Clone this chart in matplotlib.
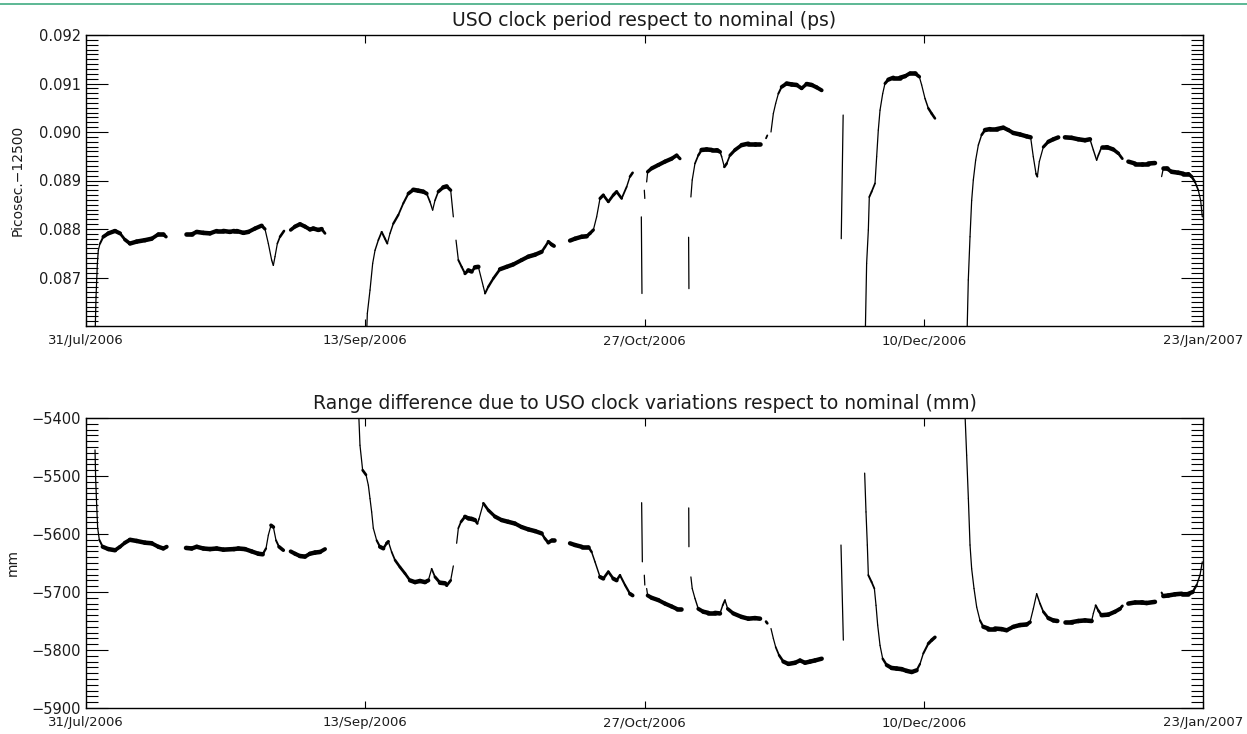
import datetime as dt

import numpy as np
import matplotlib
matplotlib.use("Agg")
import matplotlib.pyplot as plt
import matplotlib.dates as mdates
from matplotlib.collections import LineCollection
from matplotlib.lines import Line2D
from matplotlib.ticker import FixedLocator, FuncFormatter, NullLocator

# ---------------------------------------------------------------------------
# Time axis: days elapsed since 31 Jul 2006
# ---------------------------------------------------------------------------
START = dt.datetime(2006, 7, 31)
END = dt.datetime(2007, 1, 23)
TICK_DATES = [dt.datetime(2006, 7, 31), dt.datetime(2006, 9, 13),
              dt.datetime(2006, 10, 27), dt.datetime(2006, 12, 10),
              dt.datetime(2007, 1, 23)]
TICK_LABELS = ["31/Jul/2006", "13/Sep/2006", "27/Oct/2006",
               "10/Dec/2006", "23/Jan/2007"]

# ---------------------------------------------------------------------------
# USO clock period minus 12500 ps, one list pair per continuous data stretch
# ---------------------------------------------------------------------------
P1_DAY = [1.37, 1.58, 1.79, 1.94, 2.21, 2.73, 3.52, 4.57, 5.36, 6.14, 6.93,
          7.98, 9.30, 10.35, 11.40, 12.18, 12.61]
P1_PS = [0.0855, 0.08660, 0.08729, 0.08756, 0.08770, 0.08784, 0.08791,
         0.08796, 0.08791, 0.08778, 0.08770, 0.08774, 0.08777, 0.08780,
         0.08789, 0.08789, 0.08784]

P2_DAY = [15.76, 16.65, 17.44, 18.49, 19.54, 20.59, 21.64, 22.69, 23.32,
          23.74, 24.79, 25.58, 26.63, 27.68, 28.20, 28.73, 29.25, 29.52,
          29.78, 30.15, 30.57, 31.20]
P2_PS = [0.08789, 0.08789, 0.08794, 0.08792, 0.08791, 0.08796, 0.08796,
         0.08794, 0.08796, 0.08796, 0.08792, 0.08794, 0.08801, 0.08807,
         0.08800, 0.08770, 0.08736, 0.08725, 0.08743, 0.08770, 0.08784,
         0.08796]

P3_DAY = [32.25, 32.93, 33.72, 34.51, 35.29, 35.82, 36.61, 37.13, 37.66]
P3_PS = [0.08798, 0.08805, 0.08810, 0.08805, 0.08799, 0.08801, 0.08798,
         0.08800, 0.08791]

P4_DAY = [44.12, 44.33, 44.75, 45.17, 45.54, 46.06, 46.59, 47.11, 47.48,
          47.90, 48.42, 49.21, 50.00, 50.79, 51.58, 52.36, 53.15, 53.68,
          54.20, 54.62, 54.99, 55.51, 56.30, 56.83, 57.46, 57.88]
P4_PS = [0.0855, 0.08626, 0.08674, 0.08729, 0.08756, 0.08777, 0.08794,
         0.08780, 0.08770, 0.08791, 0.08811, 0.08829, 0.08853, 0.08873,
         0.08881, 0.08879, 0.08877, 0.08873, 0.08856, 0.08839, 0.08859,
         0.08877, 0.08886, 0.08888, 0.08880, 0.08825]

P5_DAY = [58.30, 58.67, 59.19, 59.72, 60.24, 60.77, 61.29, 61.82, 62.61,
          62.87, 63.39, 64.18, 65.23, 66.28, 67.33, 68.64, 69.69, 70.75,
          71.80, 72.32, 72.85, 73.37, 73.74]
P5_PS = [0.08777, 0.08736, 0.08722, 0.08708, 0.08715, 0.08712, 0.08721,
         0.08722, 0.08681, 0.08667, 0.08681, 0.08698, 0.08717, 0.08722,
         0.08727, 0.08736, 0.08743, 0.08747, 0.08753, 0.08763, 0.08774,
         0.08768, 0.08765]

P6_DAY = [76.26, 77.05, 78.10, 78.89, 79.41, 79.94, 80.46, 80.99, 81.51,
          82.30, 83.09, 83.61, 84.40, 85.19, 85.71, 86.13]
P6_PS = [0.08776, 0.08780, 0.08784, 0.08785, 0.08791, 0.08798, 0.08825,
         0.08863, 0.08870, 0.08856, 0.08870, 0.08877, 0.08863, 0.08887,
         0.08908, 0.08916]

P7_DAY = [87.50, 87.60]
P7_PS = [0.08825, 0.08667]

P8_DAY = [87.97, 88.05]
P8_PS = [0.08880, 0.08863]

P9_DAY = [88.34, 88.50, 89.13, 90.18, 91.23, 92.28, 93.07, 93.59]
P9_PS = [0.08897, 0.08918, 0.08925, 0.08932, 0.08939, 0.08945, 0.08952,
         0.08945]

P10_DAY = [94.95, 95.00]
P10_PS = [0.08783, 0.08677]

P11_DAY = [95.31, 95.52, 95.95, 96.48, 97.00, 97.79, 98.58, 99.37, 99.90,
           100.16, 100.58, 100.95, 101.47, 102.26, 103.31, 104.36, 105.41,
           106.20]
P11_PS = [0.08866, 0.08901, 0.08935, 0.08952, 0.08963, 0.08964, 0.08963,
          0.08963, 0.08959, 0.08949, 0.08928, 0.08935, 0.08952, 0.08963,
          0.08973, 0.08976, 0.08976, 0.08976]

P12_DAY = [107.15, 107.35]
P12_PS = [0.08987, 0.08993]

P13_DAY = [107.93, 108.30, 108.67, 109.09, 109.61, 110.40, 111.19, 111.97,
           112.76, 113.55, 114.34, 115.13, 115.91]
P13_PS = [0.09000, 0.09038, 0.09059, 0.09079, 0.09093, 0.09100, 0.09098,
          0.09097, 0.09090, 0.09099, 0.09097, 0.09092, 0.09086]

P14_DAY = [119.30, 119.00]
P14_PS = [0.09035, 0.08780]

P15_DAY = [122.74, 123.00, 123.27, 123.42, 123.79, 124.32, 124.58, 124.84,
           125.11, 125.53, 125.89, 126.42, 127.21, 128.26, 129.05, 129.83,
           130.62, 131.30, 131.67, 132.20, 132.72, 133.25, 133.77]
P15_PS = [0.0855, 0.08729, 0.08798, 0.08866, 0.08877, 0.08894, 0.08949,
          0.09004, 0.09045, 0.09079, 0.09100, 0.09108, 0.09112, 0.09112,
          0.09115, 0.09121, 0.09121, 0.09114, 0.09097, 0.09069, 0.09049,
          0.09038, 0.09028]

P16_DAY = [138.76, 139.02, 139.29, 139.55, 139.81, 140.18, 140.60, 141.12,
           141.65, 142.44, 143.49, 144.54, 145.33, 146.11, 147.16, 148.21,
           148.84, 149.26, 149.69, 149.90, 150.21, 150.84, 151.63, 152.42,
           153.20]
P16_PS = [0.0855, 0.08695, 0.08784, 0.08859, 0.08901, 0.08942, 0.08973,
          0.08994, 0.09004, 0.09006, 0.09006, 0.09009, 0.09004, 0.08998,
          0.08995, 0.08991, 0.08989, 0.08949, 0.08914, 0.08908, 0.08939,
          0.08969, 0.08980, 0.08985, 0.08989]

P17_DAY = [154.25, 155.30, 156.35, 157.41, 158.19, 158.72, 159.24, 159.51,
           160.03, 160.82, 161.87, 162.66, 163.29]
P17_PS = [0.08989, 0.08988, 0.08985, 0.08983, 0.08985, 0.08963, 0.08942,
          0.08952, 0.08969, 0.08969, 0.08964, 0.08956, 0.08945]

P18_DAY = [164.24, 165.29, 166.33, 167.38, 168.43]
P18_PS = [0.08939, 0.08935, 0.08935, 0.08935, 0.08936]

P19_DAY = [169.48, 169.75, 170.27, 171.06, 172.11, 172.90, 173.69, 174.21,
           174.74, 175.26, 175.63, 175.89]
P19_PS = [0.08908, 0.08925, 0.08925, 0.08918, 0.08916, 0.08914, 0.08914,
          0.08908, 0.08897, 0.08880, 0.08859, 0.08825]

# ---------------------------------------------------------------------------
# Range difference (mm), same stretches
# ---------------------------------------------------------------------------
R1_DAY = [1.42, 1.52, 1.68, 1.84, 2.10, 2.63, 3.52, 4.57, 5.36, 6.14, 6.93,
          7.98, 9.30, 10.35, 11.40, 12.18, 12.71]
R1_MM = [-5455, -5504, -5550, -5590, -5610, -5622, -5626, -5628, -5622,
         -5615, -5610, -5612, -5615, -5616, -5622, -5625, -5622]

R2_DAY = [15.76, 16.65, 17.44, 18.49, 19.54, 20.59, 21.64, 23.32, 24.01,
          25.05, 26.10, 27.15, 27.84, 28.36, 28.73, 29.15, 29.52, 29.94,
          30.41, 31.09]
R2_MM = [-5624, -5625, -5622, -5625, -5626, -5625, -5627, -5626, -5625,
         -5626, -5630, -5634, -5635, -5625, -5602, -5585, -5588, -5611,
         -5622, -5628]

R3_DAY = [32.25, 32.93, 33.72, 34.51, 35.29, 36.08, 36.87, 37.66]
R3_MM = [-5630, -5634, -5638, -5639, -5634, -5632, -5631, -5626]

R4_DAY = [42.96, 43.17, 43.59, 44.12, 44.49, 44.75, 45.01, 45.27, 45.80,
          46.32, 46.85, 47.37, 47.64, 48.16, 48.69, 49.47, 50.26, 51.05,
          51.84, 52.63, 53.41, 53.94, 54.46, 54.99, 55.78, 56.57, 56.83,
          57.46, 57.88]
R4_MM = [-5390, -5447, -5490, -5498, -5516, -5539, -5562, -5590, -5611,
         -5622, -5625, -5616, -5613, -5631, -5645, -5657, -5668, -5680,
         -5683, -5681, -5683, -5680, -5660, -5674, -5684, -5685, -5689,
         -5680, -5655]

R5_DAY = [58.40, 58.67, 59.09, 59.72, 60.24, 60.77, 61.29, 61.66, 61.92,
          62.61, 63.40, 64.45, 65.49, 66.54, 67.59, 68.64, 69.69, 70.75,
          71.80, 72.32, 72.85, 73.37, 73.74]
R5_MM = [-5616, -5590, -5579, -5570, -5573, -5574, -5576, -5582, -5574,
         -5547, -5559, -5570, -5576, -5579, -5582, -5588, -5592, -5595,
         -5599, -5608, -5615, -5611, -5611]

R6_DAY = [76.26, 77.05, 78.10, 79.15, 79.67, 80.20, 80.99, 81.51, 82.30,
          83.09, 83.61, 84.14, 84.93, 85.71, 86.13]
R6_MM = [-5616, -5619, -5622, -5622, -5631, -5648, -5674, -5677, -5665,
         -5677, -5680, -5671, -5688, -5703, -5706]

R7_DAY = [87.55, 87.66]
R7_MM = [-5546, -5648]

R8_DAY = [87.97, 88.05]
R8_MM = [-5671, -5688]

R9_DAY = [88.34, 88.50, 89.13, 90.18, 91.23, 92.28, 93.07, 93.75]
R9_MM = [-5694, -5706, -5710, -5714, -5720, -5725, -5729, -5729]

R10_DAY = [94.97, 95.00]
R10_MM = [-5555, -5622]

R11_DAY = [95.31, 95.52, 95.95, 96.48, 97.26, 98.05, 99.10, 99.89, 100.32,
           100.68, 101.11, 102.00, 103.31, 104.36, 105.41, 106.20]
R11_MM = [-5674, -5694, -5711, -5729, -5734, -5736, -5736, -5737, -5723,
          -5714, -5729, -5737, -5743, -5746, -5745, -5746]

R12_DAY = [107.15, 107.35]
R12_MM = [-5751, -5754]

R13_DAY = [107.93, 108.30, 108.67, 109.20, 109.88, 110.67, 111.72, 112.50,
           113.29, 114.08, 114.87, 115.92]
R13_MM = [-5763, -5780, -5795, -5809, -5820, -5824, -5822, -5818, -5822,
          -5820, -5818, -5815]

R14_DAY = [118.96, 119.33]
R14_MM = [-5619, -5783]

R15_DAY = [122.69, 122.90, 123.11, 123.27, 123.79, 124.22, 124.48, 124.74,
           125.11, 125.53, 126.16, 126.95, 127.73, 128.52, 129.31, 130.10,
           130.88, 131.41, 131.93, 132.72, 133.25, 133.77]
R15_MM = [-5495, -5562, -5619, -5671, -5683, -5694, -5723, -5757, -5792,
          -5815, -5826, -5831, -5832, -5833, -5836, -5838, -5835, -5824,
          -5806, -5789, -5783, -5778]

R16_DAY = [138.45, 138.76, 139.03, 139.29, 139.55, 139.92, 140.34, 140.86,
           141.39, 142.18, 143.23, 144.28, 145.06, 146.11, 147.16, 148.21,
           148.74, 149.26, 149.79, 150.32, 150.84, 151.63, 152.42, 153.05]
R16_MM = [-5380, -5464, -5539, -5619, -5660, -5694, -5726, -5749, -5760,
          -5763, -5763, -5764, -5766, -5760, -5757, -5756, -5752, -5729,
          -5703, -5720, -5734, -5745, -5749, -5750]

R17_DAY = [154.25, 155.30, 156.35, 157.41, 158.45, 158.72, 159.09, 159.51,
           160.03, 161.08, 162.13, 162.92, 163.29]
R17_MM = [-5752, -5752, -5750, -5749, -5750, -5737, -5723, -5732, -5740,
          -5739, -5734, -5729, -5724]

R18_DAY = [164.24, 165.29, 166.33, 167.12, 168.43]
R18_MM = [-5720, -5718, -5718, -5719, -5717]

R19_DAY = [169.48, 169.75, 170.54, 171.59, 172.64, 173.69, 174.37, 175.00,
           175.53, 175.89]
R19_MM = [-5701, -5707, -5706, -5704, -5703, -5703, -5700, -5688, -5671,
          -5648]

PERIOD_STRETCHES = [
    (P1_DAY, P1_PS), (P2_DAY, P2_PS), (P3_DAY, P3_PS), (P4_DAY, P4_PS),
    (P5_DAY, P5_PS), (P6_DAY, P6_PS), (P7_DAY, P7_PS), (P8_DAY, P8_PS),
    (P9_DAY, P9_PS), (P10_DAY, P10_PS), (P11_DAY, P11_PS),
    (P12_DAY, P12_PS), (P13_DAY, P13_PS), (P14_DAY, P14_PS),
    (P15_DAY, P15_PS), (P16_DAY, P16_PS), (P17_DAY, P17_PS),
    (P18_DAY, P18_PS), (P19_DAY, P19_PS),
]
RANGE_STRETCHES = [
    (R1_DAY, R1_MM), (R2_DAY, R2_MM), (R3_DAY, R3_MM), (R4_DAY, R4_MM),
    (R5_DAY, R5_MM), (R6_DAY, R6_MM), (R7_DAY, R7_MM), (R8_DAY, R8_MM),
    (R9_DAY, R9_MM), (R10_DAY, R10_MM), (R11_DAY, R11_MM),
    (R12_DAY, R12_MM), (R13_DAY, R13_MM), (R14_DAY, R14_MM),
    (R15_DAY, R15_MM), (R16_DAY, R16_MM), (R17_DAY, R17_MM),
    (R18_DAY, R18_MM), (R19_DAY, R19_MM),
]

PERIOD_TICKS = [0.087, 0.088, 0.089, 0.090, 0.091, 0.092]
RANGE_TICKS = [-5900, -5800, -5700, -5600, -5500, -5400]

# ---------------------------------------------------------------------------
# Figure
# ---------------------------------------------------------------------------
W, H = 1247, 734
DPI = 100
TEXT = "#1c1c1c"
plt.rcParams["font.family"] = ["DejaVu Sans"]

fig = plt.figure(figsize=(W / DPI, H / DPI), dpi=DPI, facecolor="white")


def px_box(left, top, right, bottom):
    return [left / W, 1 - bottom / H, (right - left) / W, (bottom - top) / H]


ax1 = fig.add_axes(px_box(86, 35, 1203, 326))
ax2 = fig.add_axes(px_box(86, 418, 1203, 708))

x0 = mdates.date2num(START)
x1 = mdates.date2num(END)
xticks = [mdates.date2num(d) for d in TICK_DATES]


def minus_fmt(fmt):
    return FuncFormatter(lambda v, pos: (fmt % v).replace("-", "\u2212"))


def style_axes(ax, ylim, major, minor_step, fmt):
    ax.set_xlim(x0, x1)
    ax.set_ylim(*ylim)
    ax.xaxis.set_major_locator(FixedLocator(xticks))
    ax.set_xticklabels(TICK_LABELS)
    ax.xaxis.set_minor_locator(NullLocator())
    ax.yaxis.set_major_locator(FixedLocator(major))
    minors = np.arange(ylim[0], ylim[1] + minor_step / 2, minor_step)
    ax.yaxis.set_minor_locator(FixedLocator(minors))
    ax.yaxis.set_major_formatter(minus_fmt(fmt))
    ax.tick_params(which="both", direction="in", top=True, right=True,
                   colors="black", labelcolor=TEXT)
    ax.tick_params(axis="y", which="major", length=15.8, width=0.8,
                   labelsize=10.5, pad=3.6)
    ax.tick_params(axis="y", which="minor", length=8.6, width=0.8)
    ax.tick_params(axis="x", which="major", length=5.4, width=0.8,
                   labelsize=9.5, pad=6.0)
    for sp in ax.spines.values():
        sp.set_linewidth(1.0)
        sp.set_color("black")


style_axes(ax1, (0.086, 0.092), PERIOD_TICKS, 0.0001, "%.3f")
style_axes(ax2, (-5900, -5400), RANGE_TICKS, 10, "%d")


def draw_trace(ax, stretches, thick=3.3, thin=0.9):
    """Draw each stretch; flat parts look thick (dense noisy samples),
    steep parts thin, as in a dense scatter joined by a line."""
    for days, vals in stretches:
        pts = np.column_stack([x0 + np.asarray(days, float),
                               np.asarray(vals, float)])
        disp = ax.transData.transform(pts)
        d = np.diff(disp, axis=0)
        length = np.hypot(d[:, 0], d[:, 1])
        cos = np.abs(d[:, 0]) / np.maximum(length, 1e-9)
        lw = np.maximum(thin, thick * cos)
        segs = np.stack([pts[:-1], pts[1:]], axis=1)
        lc = LineCollection(segs, linewidths=lw, colors="black",
                            capstyle="round", joinstyle="round")
        ax.add_collection(lc)


draw_trace(ax1, PERIOD_STRETCHES)
draw_trace(ax2, RANGE_STRETCHES)

# Titles
fig.text(644.5 / W, 1 - 20.5 / H, "USO clock period respect to nominal (ps)",
         ha="center", va="center", fontsize=13.5, color=TEXT)
fig.text(644.5 / W, 1 - 403.5 / H,
         "Range difference due to USO clock variations respect to nominal (mm)",
         ha="center", va="center", fontsize=13.5, color=TEXT)

# Axis titles
fig.text(18 / W, 1 - 180 / H, "Picosec.\u221212500", rotation=90,
         ha="center", va="center", fontsize=10, color=TEXT)
fig.text(12.5 / W, 1 - 563 / H, "mm", rotation=90,
         ha="center", va="center", fontsize=10, color=TEXT)

# Window frame line along the top edge
fig.add_artist(Line2D([0, 1], [1 - 3.5 / H, 1 - 3.5 / H],
                      transform=fig.transFigure, color="#5cb894", lw=1.4))

fig.savefig("out.png", dpi=DPI, facecolor="white")
